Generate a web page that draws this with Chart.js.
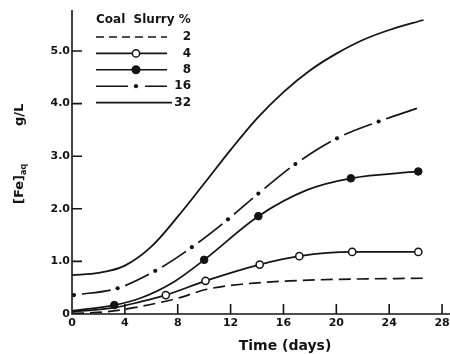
<!DOCTYPE html>
<html>
<head>
<meta charset="utf-8">
<script src="https://cdn.jsdelivr.net/npm/chart.js@4.4.1/dist/chart.umd.min.js"></script>
<style>
  body { margin: 0; background: #fff; }
  #wrap { width: 450px; height: 354px; }
</style>
</head>
<body>
<div id="wrap"><canvas id="chart"></canvas></div>
<script>
// coal slurry concentrations (%)
var slurryLabels = ["2", "4", "8", "16", "32"];

// 2 % slurry (dashed)
var t2  = [0, 2.5, 4.7, 8, 10.2, 13, 16.5, 20.3, 26.7];
var fe2 = [0.01, 0.04, 0.12, 0.30, 0.47, 0.57, 0.63, 0.66, 0.68];

// 4 % slurry (open circles)
var t4    = [0, 3.2, 5.15, 7.1, 10.1, 14.2, 17.2, 21.2, 26.2];
var fe4   = [0.04, 0.12, 0.23, 0.36, 0.63, 0.94, 1.10, 1.18, 1.18];
var mark4 = [0, 0, 0, 1, 1, 1, 1, 1, 1];

// 8 % slurry (filled circles)
var t8    = [0, 3.2, 5.15, 7.7, 10.0, 14.1, 17.8, 21.1, 26.2];
var fe8   = [0.06, 0.17, 0.30, 0.61, 1.03, 1.86, 2.36, 2.58, 2.71];
var mark8 = [0, 1, 0, 0, 1, 1, 0, 1, 1];

// 16 % slurry (dash-dot, a dot at every point except the last)
var t16  = [0.15, 3.45, 6.3, 9.07, 11.8, 14.1, 16.9, 20.05, 23.2, 26.1];
var fe16 = [0.36, 0.49, 0.82, 1.27, 1.80, 2.29, 2.85, 3.34, 3.66, 3.91];

// 32 % slurry (solid)
var t32  = [0, 2, 4, 6, 8, 10, 12, 14, 16, 18, 20, 22, 24, 26.6];
var fe32 = [0.74, 0.78, 0.92, 1.28, 1.85, 2.48, 3.12, 3.72, 4.22, 4.63, 4.95, 5.21, 5.40, 5.59];

var xTicks = [0, 4, 8, 12, 16, 20, 24, 28];
var yTicks = [0, 1, 2, 3, 4, 5];

var ink = "#141414";
var fontFam = '"DejaVu Sans", sans-serif';
var dotGap = 8;

function pts(t, v) {
    return t.map(function (d, i) { return { x: d, y: v[i] }; });
}

// each segment of the 16 % line: gap, long dash, gap (no gap before the end point)
function dashDot(c) {
    var L = Math.hypot(c.p1.x - c.p0.x, c.p1.y - c.p0.y) * 1.02;
    if (c.p1DataIndex === t16.length - 1) return [0.01, dotGap, 2000];
    return [0.01, dotGap, Math.max(L - 2 * dotGap, 1), 2000];
}

var base = {
    showLine: true,
    borderColor: ink,
    borderWidth: 1.7,
    pointRadius: 0,
    cubicInterpolationMode: "monotone"
};

var datasets = [
    Object.assign({}, base, { label: "2", data: pts(t2, fe2), borderDash: [12, 6] }),
    Object.assign({}, base, {
        label: "4", data: pts(t4, fe4),
        pointRadius: mark4.map(function (m) { return m ? 3.6 : 0; }),
        pointBackgroundColor: "#fff", pointBorderColor: ink, pointBorderWidth: 1.5
    }),
    Object.assign({}, base, {
        label: "8", data: pts(t8, fe8),
        pointRadius: mark8.map(function (m) { return m ? 3.8 : 0; }),
        pointBackgroundColor: ink, pointBorderColor: ink, pointBorderWidth: 1
    }),
    Object.assign({}, base, {
        label: "16", data: pts(t16, fe16),
        segment: { borderDash: dashDot },
        pointRadius: t16.map(function (d, i) { return i < t16.length - 1 ? 2.1 : 0; }),
        pointBackgroundColor: ink, pointBorderWidth: 0
    }),
    Object.assign({}, base, { label: "32", data: pts(t32, fe32), borderWidth: 1.8 })
];

// axis lines + inward ticks
var axesPlugin = {
    id: "axes",
    afterDatasetsDraw: function (chart) {
        var ctx = chart.ctx, a = chart.chartArea;
        var xs = chart.scales.x, ys = chart.scales.y;
        ctx.save();
        ctx.strokeStyle = ink;
        ctx.lineWidth = 1.6;
        ctx.beginPath();
        ctx.moveTo(a.left, a.top);
        ctx.lineTo(a.left, a.bottom);
        ctx.lineTo(chart.width, a.bottom);
        xTicks.forEach(function (v) {
            if (v === 0) return;
            var px = xs.getPixelForValue(v);
            ctx.moveTo(px, a.bottom);
            ctx.lineTo(px, a.bottom - 10);
        });
        yTicks.forEach(function (v) {
            if (v === 0) return;
            var py = ys.getPixelForValue(v);
            ctx.moveTo(a.left, py);
            ctx.lineTo(a.left + 10, py);
        });
        ctx.stroke();
        ctx.restore();
    }
};

// legend block, x title and rotated y title with subscript
var annotPlugin = {
    id: "annot",
    afterDraw: function (chart) {
        var ctx = chart.ctx;
        ctx.save();
        ctx.fillStyle = ink;
        ctx.strokeStyle = ink;
        ctx.lineWidth = 1.6;
        ctx.textBaseline = "middle";

        ctx.font = "bold 12px " + fontFam;
        ctx.textAlign = "left";
        ctx.fillText("Coal  Slurry %", 96, 20);

        ctx.textAlign = "right";
        slurryLabels.forEach(function (lab, i) {
            var y = 37 + i * 16.4;
            var x0 = 96, x1 = (i === 4 ? 172 : 167), mx = 136;
            ctx.beginPath();
            if (i === 0) ctx.setLineDash([8, 5]);
            if (i === 3) {
                ctx.moveTo(x0, y); ctx.lineTo(128, y);
                ctx.moveTo(145, y); ctx.lineTo(x1, y);
            } else {
                ctx.moveTo(x0, y); ctx.lineTo(x1, y);
            }
            ctx.stroke();
            ctx.setLineDash([]);
            if (i === 1 || i === 2) {
                ctx.beginPath();
                ctx.arc(mx, y, i === 1 ? 3.6 : 3.8, 0, Math.PI * 2);
                ctx.fillStyle = i === 1 ? "#fff" : ink;
                ctx.fill();
                ctx.lineWidth = 1.5;
                ctx.stroke();
                ctx.lineWidth = 1.6;
                ctx.fillStyle = ink;
            }
            if (i === 3) {
                ctx.beginPath();
                ctx.arc(mx, y, 2.1, 0, Math.PI * 2);
                ctx.fill();
            }
            ctx.fillText(lab, 191, y);
        });

        ctx.textAlign = "center";
        ctx.font = "bold 14px " + fontFam;
        ctx.fillText("Time (days)", 285, 346);

        // y axis title: [Fe]aq   g/L
        ctx.translate(20, 204);
        ctx.rotate(-Math.PI / 2);
        ctx.textAlign = "left";
        ctx.font = "bold 13px " + fontFam;
        ctx.fillText("[Fe]", 0, 0);
        var w = ctx.measureText("[Fe]").width;
        ctx.font = "bold 8px " + fontFam;
        ctx.fillText("aq", w, 4);
        ctx.font = "bold 13px " + fontFam;
        ctx.fillText("g/L", 78, 0);
        ctx.restore();
    }
};

new Chart(document.getElementById("chart"), {
    type: "scatter",
    data: { datasets: datasets },
    options: {
        responsive: true,
        maintainAspectRatio: false,
        animation: false,
        events: [],
        layout: { autoPadding: false, padding: { top: 10, right: 0, left: 0, bottom: 0 } },
        plugins: { legend: { display: false }, tooltip: { enabled: false } },
        scales: {
            x: {
                type: "linear",
                min: 0, max: 28.6,
                afterFit: function (s) { s.height = 40; s.paddingLeft = 0; s.paddingRight = 0; },
                afterBuildTicks: function (s) { s.ticks = xTicks.map(function (v) { return { value: v }; }); },
                grid: { display: false, drawTicks: false },
                border: { display: false },
                ticks: {
                    color: ink, padding: 3, autoSkip: false, maxRotation: 0,
                    font: { family: fontFam, size: 11, weight: "bold" },
                    callback: function (v) { return String(v); }
                }
            },
            y: {
                type: "linear",
                min: 0, max: 5.78,
                afterFit: function (s) { s.width = 72; s.paddingTop = 0; s.paddingBottom = 0; },
                afterBuildTicks: function (s) { s.ticks = yTicks.map(function (v) { return { value: v }; }); },
                grid: { display: false, drawTicks: false },
                border: { display: false },
                ticks: {
                    color: ink, padding: 2,
                    font: { family: fontFam, size: 11, weight: "bold" },
                    callback: function (v) { return v === 0 ? "0" : v.toFixed(1); }
                }
            }
        }
    },
    plugins: [axesPlugin, annotPlugin]
});
</script>
</body>
</html>
